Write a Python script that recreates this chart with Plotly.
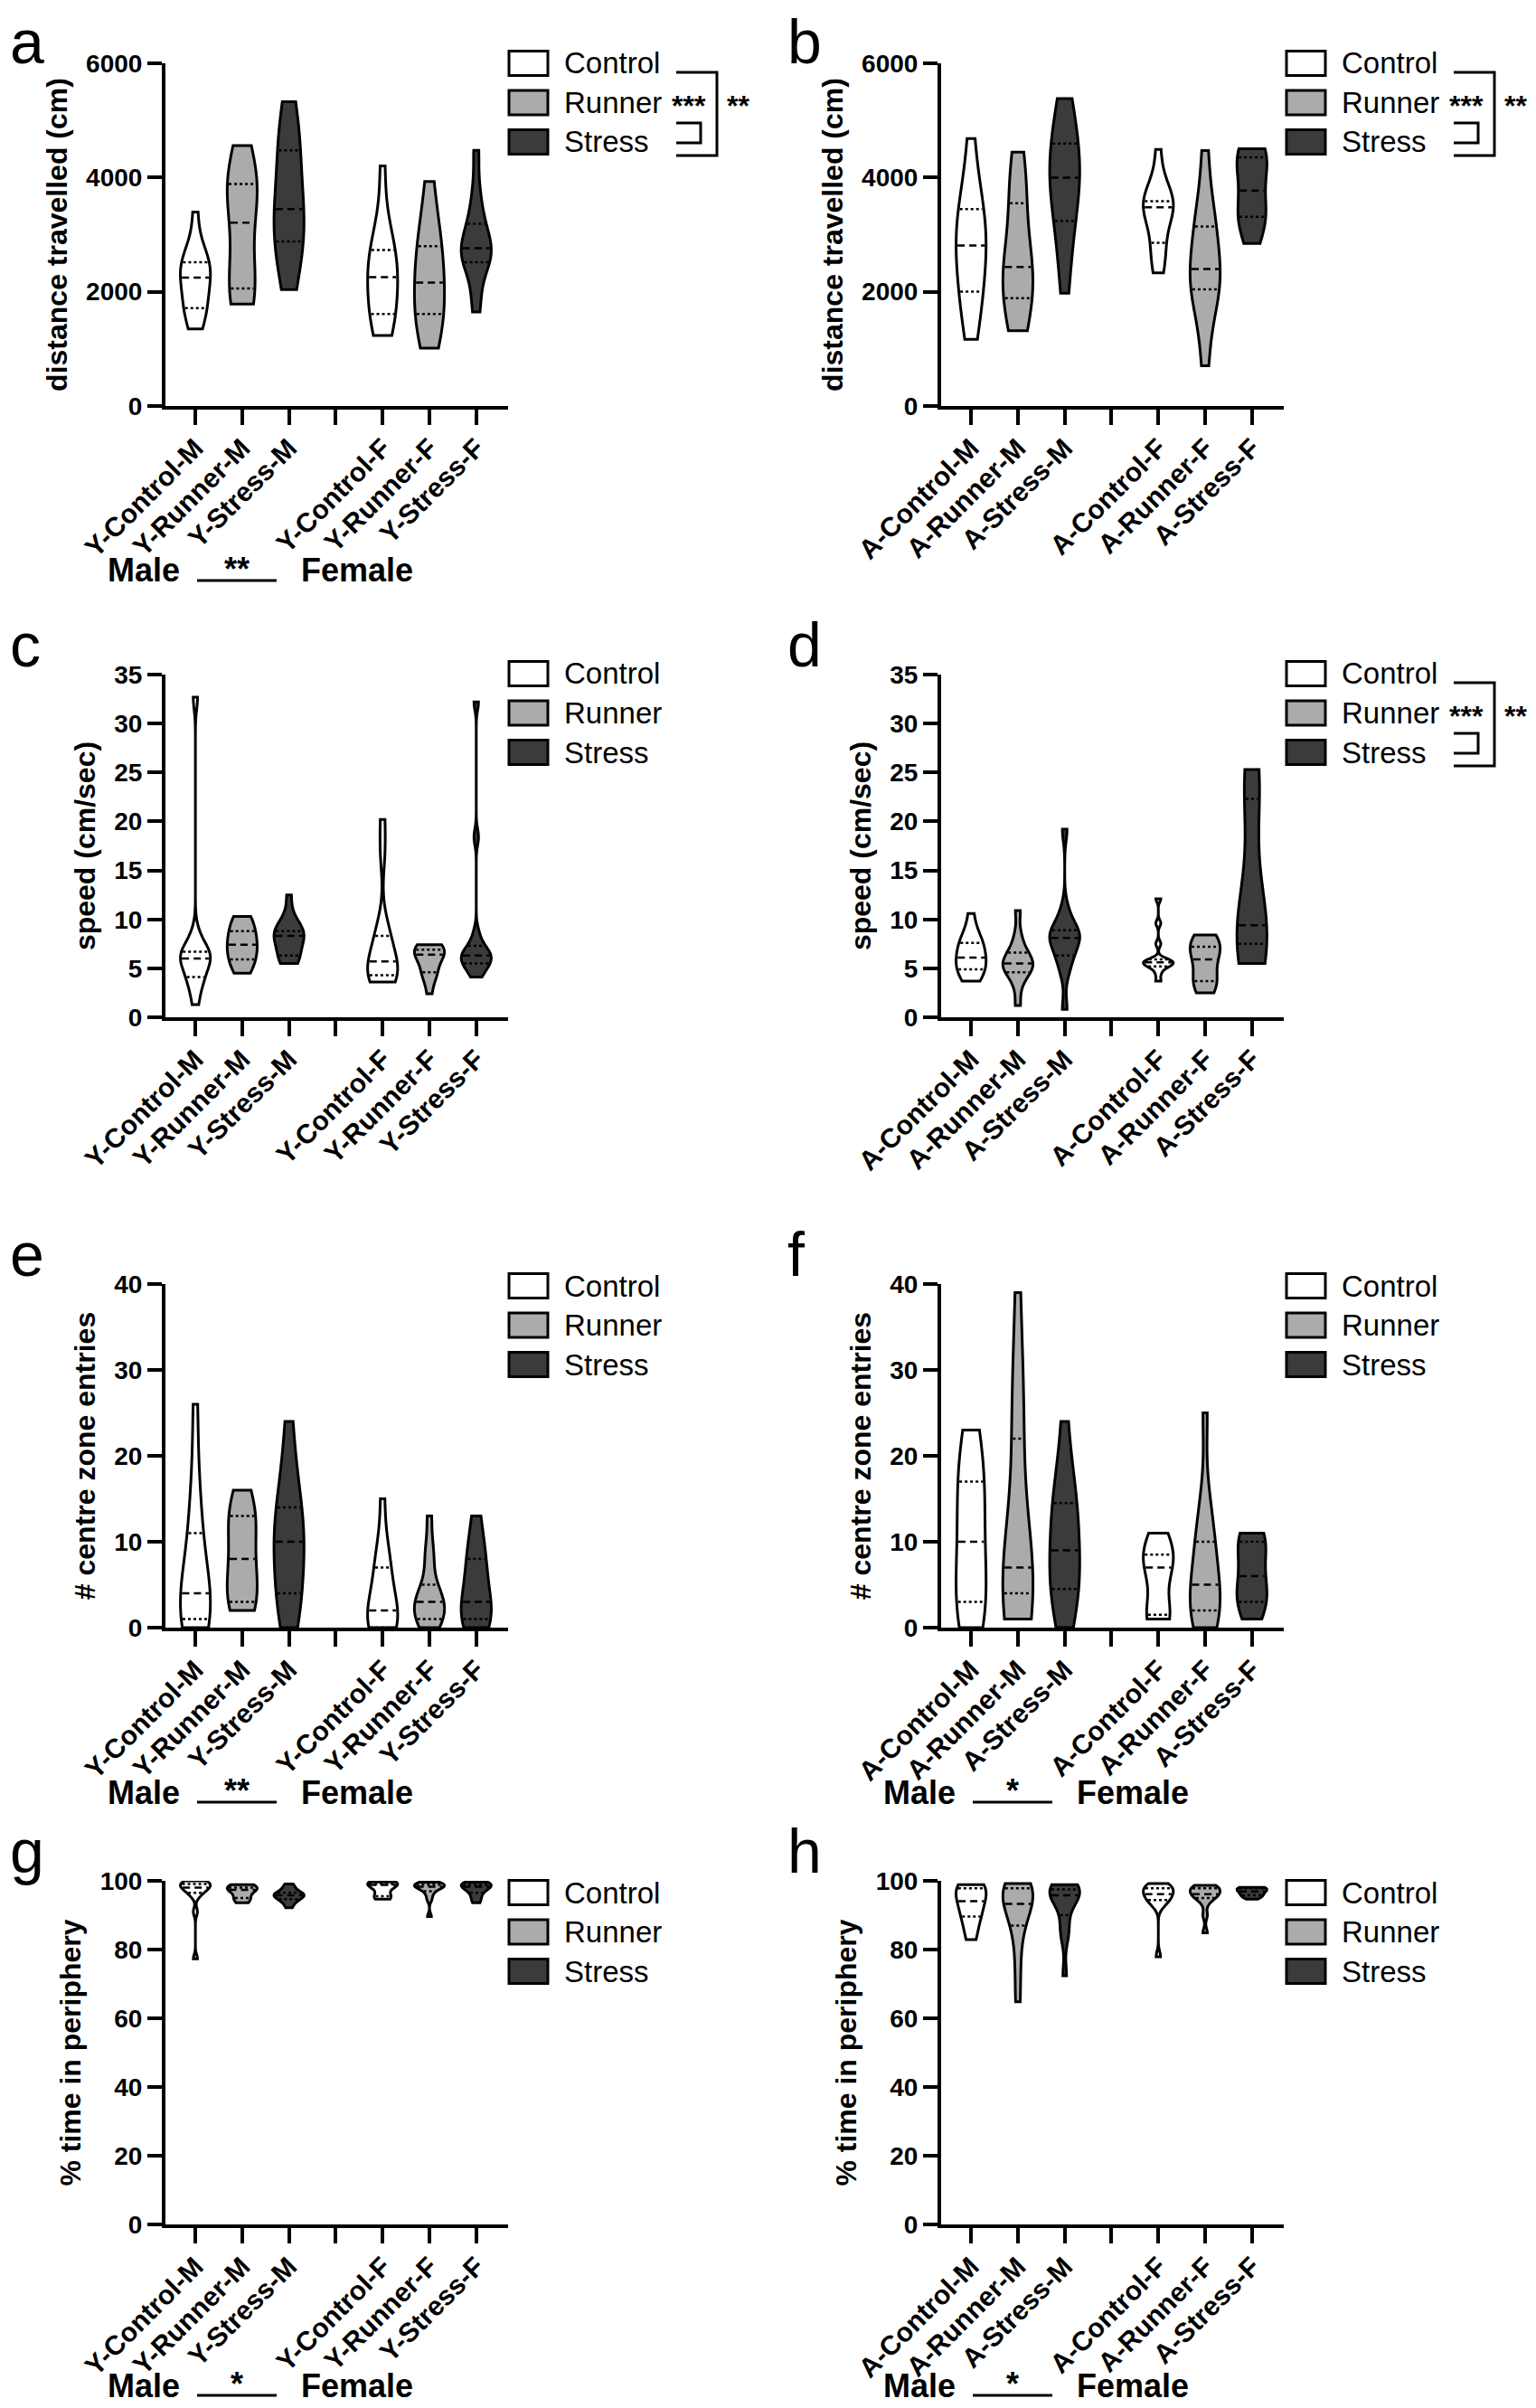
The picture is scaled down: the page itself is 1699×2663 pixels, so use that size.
import numpy as np
import plotly.graph_objects as go

FONT = "Liberation Sans, Arial, sans-serif"

young_ticks = ["Y-Control-M", "Y-Runner-M", "Y-Stress-M", "", "Y-Control-F", "Y-Runner-F", "Y-Stress-F"]
aged_ticks = ["A-Control-M", "A-Runner-M", "A-Stress-M", "", "A-Control-F", "A-Runner-F", "A-Stress-F"]
groups = ["Control", "Runner", "Stress"]
group_fill = ["#ffffff", "#ababab", "#3b3b3b"]

# distance travelled (cm), order: Control-M, Runner-M, Stress-M, Control-F, Runner-F, Stress-F
dist_young = [
    [1351, 1600, 1680, 1714, 1900, 2200, 2249, 2350, 2420, 2517, 2560, 2700, 3394],
    [1783, 1850, 2000, 2057, 2300, 2900, 3209, 3700, 3800, 3888, 3950, 4100, 4560],
    [2037, 2400, 2700, 2880, 3100, 3350, 3449, 3600, 4100, 4478, 4600, 4900, 5328],
    [1234, 1400, 1550, 1611, 1900, 2150, 2256, 2400, 2550, 2729, 2800, 3200, 4203],
    [1015, 1200, 1450, 1611, 1750, 2000, 2160, 2400, 2650, 2798, 3000, 3400, 3929],
    [1646, 2000, 2450, 2517, 2600, 2700, 2763, 2850, 3000, 3189, 3400, 3800, 4478],
]
dist_aged = [
    [1166, 1600, 1900, 2002, 2400, 2700, 2811, 2900, 3100, 3449, 3550, 3900, 4683],
    [1317, 1450, 1800, 1886, 2200, 2350, 2434, 2500, 2900, 3552, 3700, 4100, 4443],
    [1975, 2600, 3100, 3243, 3700, 3900, 3998, 4100, 4300, 4594, 4800, 5100, 5383],
    [2331, 2500, 2800, 2859, 3300, 3450, 3477, 3520, 3560, 3586, 3650, 3900, 4491],
    [706, 1400, 1800, 2043, 2100, 2250, 2400, 2600, 2900, 3141, 3300, 3700, 4471],
    [2846, 3100, 3250, 3312, 3350, 3650, 3771, 4000, 4300, 4354, 4400, 4450, 4505],
]
# speed (cm/sec)
speed_young = [
    [1.3, 3.0, 4.0, 4.1, 5.2, 5.8, 6.0, 6.2, 6.5, 6.7, 7.2, 8.5, 32.7],
    [4.5, 5.0, 5.7, 5.9, 6.5, 7.2, 7.4, 7.6, 8.4, 8.8, 9.4, 10.0, 10.3],
    [5.5, 5.8, 6.1, 6.3, 7.3, 8.1, 8.3, 8.5, 8.6, 8.8, 9.2, 10.0, 12.5],
    [3.6, 3.8, 4.1, 4.3, 4.6, 5.2, 5.7, 6.5, 7.6, 8.3, 9.5, 16.8, 20.2],
    [2.4, 4.0, 4.5, 4.6, 5.3, 6.2, 6.4, 6.6, 6.8, 6.9, 7.0, 7.2, 7.4],
    [4.1, 4.8, 5.3, 5.5, 5.9, 6.1, 6.3, 6.5, 6.9, 7.3, 8.5, 18.4, 32.2],
]
speed_aged = [
    [3.7, 4.2, 4.7, 4.9, 5.3, 5.8, 6.1, 6.6, 7.3, 7.6, 7.9, 8.6, 10.6],
    [1.2, 3.2, 4.4, 4.6, 5.0, 5.3, 5.5, 5.7, 6.2, 6.6, 7.2, 8.5, 10.9],
    [0.8, 4.5, 5.8, 6.3, 7.2, 7.9, 8.1, 8.3, 8.6, 8.9, 9.6, 11.0, 19.2],
    [3.7, 4.5, 5.1, 5.2, 5.4, 5.5, 5.6, 5.7, 5.8, 5.9, 7.5, 9.6, 12.1],
    [2.5, 3.0, 3.5, 3.7, 4.2, 5.5, 5.9, 6.8, 7.1, 7.2, 7.6, 8.0, 8.4],
    [5.5, 6.0, 7.0, 7.5, 8.0, 8.8, 9.4, 10.5, 14.0, 22.3, 23.5, 24.8, 25.3],
]
# number of centre zone entries
entries_young = [
    [0, 0.5, 1, 1, 2, 3, 4, 5, 8, 11, 13, 18, 26],
    [2, 3, 3, 3, 5, 7, 8, 9, 12, 13, 13, 14, 16],
    [0, 2, 3, 4, 7, 9, 10, 11, 12, 14, 16, 19, 24],
    [0, 0, 0, 0, 1, 2, 2, 3, 5, 7, 8, 9, 15],
    [0, 1, 1, 1, 2, 3, 3, 3, 4, 5, 8, 9, 13],
    [0, 0, 1, 1, 2, 3, 3, 5, 7, 8, 8, 11, 13],
]
entries_aged = [
    [0, 1, 2, 3, 5, 8, 10, 12, 15, 17, 18, 21, 23],
    [1, 2, 3, 4, 4, 5, 7, 7, 10, 22, 25, 28, 39],
    [0, 2, 4, 4.5, 6, 8, 9, 11, 13, 14.5, 16, 18, 24],
    [1, 1, 1, 1.5, 2, 6, 7, 7.5, 8, 8.5, 9, 10, 11],
    [0, 1, 1, 2, 3, 4, 5, 7, 9, 10, 12, 15, 25],
    [1, 2, 3, 3, 4, 5, 6, 7, 9, 10, 10, 11, 11],
]
# % time in periphery
periph_young = [
    [77.3, 91.0, 95.5, 96.5, 97.2, 97.8, 98.0, 98.5, 98.9, 99.1, 99.5, 99.8, 100.0],
    [93.6, 94.2, 94.8, 95.0, 96.2, 97.0, 97.4, 97.7, 97.9, 98.0, 98.3, 98.6, 98.9],
    [92.2, 93.5, 94.3, 94.7, 95.2, 95.6, 95.8, 96.0, 96.3, 96.6, 97.3, 98.2, 99.1],
    [94.7, 95.0, 95.3, 95.5, 96.8, 98.5, 98.8, 98.9, 99.0, 99.1, 99.3, 99.5, 99.7],
    [89.6, 94.5, 96.0, 97.0, 97.8, 98.1, 98.3, 98.5, 98.7, 98.9, 99.1, 99.4, 99.6],
    [93.6, 94.5, 95.8, 96.5, 97.5, 98.0, 98.3, 98.5, 98.7, 98.9, 99.2, 99.5, 99.7],
]
periph_aged = [
    [82.9, 84.5, 88.8, 89.6, 90.5, 93.0, 94.1, 95.5, 97.0, 97.8, 98.3, 98.6, 98.9],
    [64.8, 74.0, 82.0, 87.0, 90.0, 92.0, 93.3, 95.0, 96.5, 97.8, 98.4, 98.9, 99.2],
    [72.4, 84.0, 85.5, 90.0, 94.0, 95.2, 95.8, 96.5, 97.0, 97.5, 98.0, 98.5, 98.9],
    [77.9, 92.5, 93.8, 94.4, 95.0, 95.7, 96.1, 96.8, 97.4, 97.8, 98.3, 98.8, 99.2],
    [84.9, 90.0, 93.5, 95.0, 95.5, 95.9, 96.1, 96.7, 97.3, 97.8, 98.1, 98.4, 98.7],
    [94.7, 95.2, 95.6, 95.8, 96.2, 96.6, 96.9, 97.2, 97.5, 97.8, 97.9, 98.0, 98.1],
]

panels = [
    ("a", dist_young, young_ticks, "distance travelled (cm)", 6000, 2000),
    ("b", dist_aged, aged_ticks, "distance travelled (cm)", 6000, 2000),
    ("c", speed_young, young_ticks, "speed (cm/sec)", 35, 5),
    ("d", speed_aged, aged_ticks, "speed (cm/sec)", 35, 5),
    ("e", entries_young, young_ticks, "# centre zone entries", 40, 10),
    ("f", entries_aged, aged_ticks, "# centre zone entries", 40, 10),
    ("g", periph_young, young_ticks, "% time in periphery", 100, 20),
    ("h", periph_aged, aged_ticks, "% time in periphery", 100, 20),
]
group_stars = {"a": ("***", "**"), "b": ("***", "**"), "d": ("***", "**")}
sex_stars = {"a": "**", "e": "**", "f": "*", "g": "*", "h": "*"}

# page geometry, in pixels of the reference picture
W, H = 1699, 2663
OFF = 8  # the page body margin shifts the figure by this much
COLS = [(183, 562), (1041, 1420)]
ROWS = [(70, 449), (746, 1125), (1420, 1800), (2080, 2460)]
LETTER_X = [9, 869]
LEG_LEFT = [563, 1423]
LEG_SHIFT = [0, -1, 2, 13]
SLOTS = [0, 1, 2, 4, 5, 6]
VW = 0.64
DASH, DOT = "8px,5px", "3px,3px"


def px(x):
    return (x - OFF) / W


def py(y):
    return 1 - (y - OFF) / H


def kde_profile(vals):
    # same gaussian kde / silverman bandwidth that plotly's violin uses
    v = np.asarray(vals, float)
    n = len(v)
    q1, q3 = np.percentile(v, [25, 75])
    bw = max(1.059 * min(v.std(ddof=1), (q3 - q1) / 1.349) * n ** -0.2, (v.max() - v.min()) / 100)
    steps = int(np.ceil((v.max() - v.min()) / (bw / 3)))
    grid = np.linspace(v.min(), v.max(), steps + 1)

    def dens(t):
        t = np.atleast_1d(np.asarray(t, float))
        return np.exp(-0.5 * ((t[:, None] - v) / bw) ** 2).sum(axis=1)

    peak = dens(grid).max()
    return bw, lambda t: dens(t) / peak


def note(text, x, y, size, xanchor="center", yanchor="middle", weight="normal"):
    return dict(text=text, x=px(x), y=py(y), xref="paper", yref="paper",
                xanchor=xanchor, yanchor=yanchor, showarrow=False,
                font=dict(family=FONT, size=size, color="black", weight=weight))


fig = go.Figure()
shapes, notes = [], []
layout = {}

for k, (letter, data, ticks, title, ymax, dtick) in enumerate(panels, start=1):
    col, row = (k - 1) % 2, (k - 1) // 2
    left, right = COLS[col]
    top, bottom = ROWS[row]
    xa = "x" if k == 1 else f"x{k}"
    ya = "y" if k == 1 else f"y{k}"

    for i, vals in enumerate(data):
        pos = SLOTS[i]
        bw, prof = kde_profile(vals)
        fig.add_trace(go.Violin(
            x=[pos] * len(vals), y=vals, xaxis=xa, yaxis=ya,
            width=VW, bandwidth=bw, spanmode="hard", scalemode="width",
            scalegroup=f"{letter}{i}", points=False,
            fillcolor=group_fill[i % 3], opacity=1,
            line=dict(color="black", width=3),
            showlegend=False, hoverinfo="skip",
        ))
        q1, med, q3 = np.percentile(vals, [25, 50, 75])
        for q, dash in ((q1, DOT), (med, DASH), (q3, DOT)):
            hw = VW / 2 * prof(q)[0] - 0.03
            fig.add_trace(go.Scatter(
                x=[pos - hw, pos + hw], y=[q, q], xaxis=xa, yaxis=ya, mode="lines",
                line=dict(color="black", width=2.5, dash=dash),
                showlegend=False, hoverinfo="skip",
            ))

    layout["xaxis" if k == 1 else f"xaxis{k}"] = dict(
        domain=[px(left), px(right)], anchor=ya, type="linear", automargin=False,
        range=[-0.64, 6.68], tickmode="array", tickvals=list(range(7)), ticktext=ticks,
        tickangle=-45, ticks="outside", ticklen=17, tickwidth=4, tickcolor="black",
        ticklabelstandoff=-4,
        showline=True, linewidth=4, linecolor="black", showgrid=False, zeroline=False,
        tickfont=dict(family=FONT, size=30, color="black", weight="bold"),
    )
    layout["yaxis" if k == 1 else f"yaxis{k}"] = dict(
        domain=[py(bottom), py(top)], anchor=xa, range=[0, ymax], tick0=0, dtick=dtick,
        automargin=False,
        ticks="outside", ticklen=16, tickwidth=4, tickcolor="black",
        showline=True, linewidth=4, linecolor="black", showgrid=False, zeroline=False,
        tickfont=dict(family=FONT, size=28, color="black", weight="bold"),
        title=dict(text=title, standoff=12,
                   font=dict(family=FONT, size=32, color="black", weight="bold")),
    )

    # panel letter
    notes.append(note(letter, LETTER_X[col], max(top - 8, 71) + 15, 68,
                      xanchor="left", yanchor="bottom"))

    # legend boxes
    lx = LEG_LEFT[col]
    centers = [top + LEG_SHIFT[row] + 43.5 * j for j in range(3)]
    for j, name in enumerate(groups):
        c = centers[j]
        shapes.append(dict(type="rect", xref="paper", yref="paper",
                           x0=px(lx), x1=px(lx + 43), y0=py(c - 13.5), y1=py(c + 13.5),
                           fillcolor=group_fill[j], line=dict(color="black", width=3)))
        notes.append(note(name, lx + 59, c, 33, xanchor="left"))

    if letter in group_stars:
        inner, outer = group_stars[letter]
        c0, c1, c2 = centers
        shapes.append(dict(type="path", xref="paper", yref="paper",
                           path=f"M {px(lx + 185)},{py(c0 + 10)} L {px(lx + 230)},{py(c0 + 10)} "
                                f"L {px(lx + 230)},{py(c2 + 15)} L {px(lx + 185)},{py(c2 + 15)}",
                           line=dict(color="black", width=3)))
        shapes.append(dict(type="path", xref="paper", yref="paper",
                           path=f"M {px(lx + 185)},{py(c2 - 21)} L {px(lx + 212)},{py(c2 - 21)} "
                                f"L {px(lx + 212)},{py(c2 + 1)} L {px(lx + 185)},{py(c2 + 1)}",
                           line=dict(color="black", width=3)))
        notes.append(note(inner, lx + 199, c1 + 4, 32, weight="bold"))
        notes.append(note(outer, lx + 253, c1 + 4, 32, weight="bold"))

    if letter in sex_stars:
        my = min(bottom + 182, 2638)
        notes.append(note("Male", left - 24, my, 36, weight="bold"))
        notes.append(note("Female", left + 212, my, 36, weight="bold"))
        notes.append(note(sex_stars[letter], left + 79, my - 2, 36, weight="bold"))
        shapes.append(dict(type="line", xref="paper", yref="paper",
                           x0=px(left + 35), x1=px(left + 123), y0=py(my + 11), y1=py(my + 11),
                           line=dict(color="black", width=3)))

fig.update_layout(
    width=W, height=H, margin=dict(l=0, r=0, t=0, b=0, autoexpand=False),
    paper_bgcolor="white", plot_bgcolor="white",
    violinmode="overlay", showlegend=False,
    font=dict(family=FONT, color="black"),
    shapes=shapes, annotations=notes, **layout,
)
fig.write_html("out.html")
